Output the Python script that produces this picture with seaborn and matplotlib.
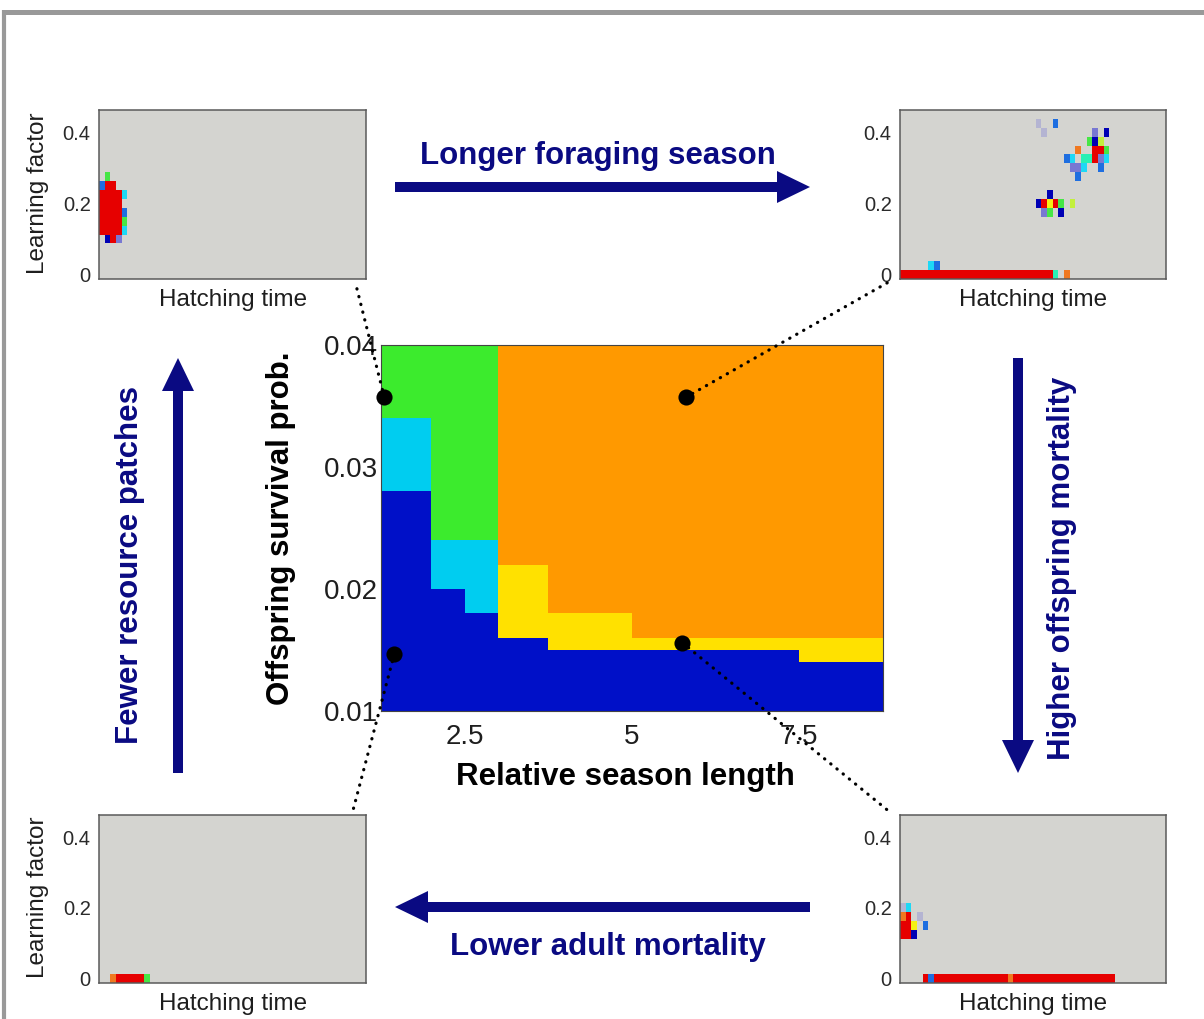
import numpy as np
import matplotlib
matplotlib.use("Agg")
import matplotlib.pyplot as plt
from matplotlib.colors import ListedColormap
from matplotlib.patches import FancyArrow, ConnectionPatch
import seaborn as sns

# ---------------- data ----------------
# main phase diagram (30 x 30 cells)
season_start, season_step = 1.25, 0.25      # relative season length (cell edges)
surv_start, surv_step = 0.010, 0.001        # offspring survival probability
n_rows = 30
group_widths = [3, 2, 2, 3, 5, 10, 5]       # columns per group (left to right)
blue_rows = [18, 10, 8, 6, 5, 5, 4]         # rows in state 0 counted from bottom
mid_rows = [24, 14, 14, 12, 8, 6, 6]        # top row of the middle state
mid_state = [1, 1, 1, 3, 3, 3, 3]           # 1 = cyan, 3 = yellow
top_state = [2, 2, 2, 4, 4, 4, 4]           # 2 = green, 4 = orange
state_colors = ["#0010C8", "#00CDF0", "#3CEB2D", "#FFE100", "#FF9900"]
x_ticks = [2.5, 5, 7.5]
x_tick_labels = ["2.5", "5", "7.5"]
y_ticks = [0.01, 0.02, 0.03, 0.04]
y_tick_labels = ["0.01", "0.02", "0.03", "0.04"]

# highlighted parameter combinations (season length, survival prob.)
dot_season = [1.30, 5.80, 1.45, 5.75]
dot_surv = [0.0357, 0.0357, 0.0147, 0.0156]

# inset distributions (learning factor x hatching time)
lf_step = 0.025
n_lf, n_ht = 19, 47
lf_ticks = [0, 0.2, 0.4]
lf_tick_labels = ["0", "0.2", "0.4"]
inset_colors = ["#0000B4", "#1E6EE0", "#1ED8F5", "#28F0B4", "#46E646",
                "#C3F03C", "#F5F014", "#F07820", "#E60000", "#B4B4D2", "#7878D2"]
# runs: (learning-factor row, first col, last col, colour code)
tl_runs = [(11, 1, 1, 4), (10, 0, 0, 1), (10, 1, 2, 8),
           (9, 0, 3, 8), (9, 4, 4, 2), (8, 0, 3, 8),
           (7, 0, 3, 8), (7, 4, 4, 1), (6, 0, 3, 8), (6, 4, 4, 4),
           (5, 0, 3, 8), (5, 4, 4, 2),
           (4, 1, 1, 0), (4, 2, 2, 8), (4, 3, 3, 10)]
tr_runs = [(17, 24, 24, 9), (16, 25, 25, 9), (17, 27, 27, 1),
           (16, 34, 34, 10), (16, 36, 36, 0),
           (15, 33, 33, 4), (15, 34, 34, 0), (15, 35, 35, 5),
           (14, 31, 31, 7), (14, 34, 35, 8), (14, 36, 36, 4),
           (13, 29, 29, 1), (13, 30, 30, 2), (13, 32, 33, 3), (13, 34, 34, 8),
           (13, 35, 35, 10), (13, 36, 36, 2),
           (12, 30, 31, 10), (12, 32, 32, 2), (12, 35, 35, 1),
           (11, 31, 31, 1),
           (9, 26, 26, 0),
           (8, 24, 24, 0), (8, 25, 25, 8), (8, 26, 26, 6), (8, 27, 27, 8),
           (8, 28, 28, 4), (8, 30, 30, 5),
           (7, 25, 25, 10), (7, 26, 26, 4), (7, 28, 28, 0),
           (1, 5, 5, 2), (1, 6, 6, 1),
           (0, 0, 26, 8), (0, 27, 27, 3), (0, 29, 29, 7)]
bl_runs = [(0, 2, 2, 7), (0, 3, 7, 8), (0, 8, 8, 4)]
br_runs = [(8, 0, 0, 9), (8, 1, 1, 2),
           (7, 0, 0, 7), (7, 1, 1, 8), (7, 3, 3, 9),
           (6, 0, 1, 8), (6, 2, 2, 6), (6, 4, 4, 1),
           (5, 0, 1, 8), (5, 2, 2, 0),
           (0, 4, 4, 8), (0, 5, 5, 1), (0, 6, 37, 8), (0, 19, 19, 7)]

arrow_texts = ["Longer foraging season", "Higher offspring mortality",
               "Lower adult mortality", "Fewer resource patches"]

# ---------------- style ----------------
sns.set_style("white")
plt.rcParams['font.family'] = ['Liberation Sans', 'DejaVu Sans']
navy = "#0a0a82"
gray_bg = "#D4D4D0"

W, H = 1204, 1019
fig = plt.figure(figsize=(W / 100, H / 100), dpi=100)
fig.patch.set_facecolor("white")


def box(l, t, r, b):
    return [l / W, 1 - b / H, (r - l) / W, (b - t) / H]


def fp(x, y):
    return x / W, 1 - y / H


# overlay for frame and arrows (pixel coordinates)
ov = fig.add_axes([0, 0, 1, 1])
ov.set_xlim(0, W)
ov.set_ylim(H, 0)
ov.axis("off")
ov.plot([4, 4], [10, H], color="#999999", lw=3.0, solid_capstyle="butt")
ov.plot([2, W], [11.5, 11.5], color="#999999", lw=3.6, solid_capstyle="butt")
arrow_kw = dict(width=10, head_width=32, head_length=33,
                length_includes_head=True, color=navy, lw=0)
ov.add_patch(FancyArrow(395, 187, 810 - 395, 0, **arrow_kw))
ov.add_patch(FancyArrow(1018, 358, 0, 773 - 358, **arrow_kw))
ov.add_patch(FancyArrow(810, 907, 395 - 810, 0, **arrow_kw))
ov.add_patch(FancyArrow(178, 773, 0, 358 - 773, **arrow_kw))

# ---------------- main heatmap ----------------
n_cols = sum(group_widths)
grid = np.zeros((n_rows, n_cols))
c = 0
for w, b, m, ms, ts in zip(group_widths, blue_rows, mid_rows, mid_state, top_state):
    col = np.full(n_rows, ts, dtype=float)
    col[:m] = ms
    col[:b] = 0
    grid[:, c:c + w] = col[::-1, None]
    c += w

axm = fig.add_axes(box(381, 345, 883, 711))
sns.heatmap(grid, ax=axm, cmap=ListedColormap(state_colors), vmin=-0.5, vmax=4.5,
            cbar=False, xticklabels=False, yticklabels=False)


def xpos(v):
    return (np.asarray(v) - season_start) / season_step


def ypos(v):
    return n_rows - (np.asarray(v) - surv_start) / surv_step


axm.set_xticks(xpos(x_ticks))
axm.set_xticklabels(x_tick_labels)
axm.set_yticks(ypos(y_ticks))
axm.set_yticklabels(y_tick_labels, rotation=0)
axm.tick_params(axis="both", length=0, labelsize=20, colors="#1e1e1e")
axm.tick_params(axis="x", pad=9)
axm.tick_params(axis="y", pad=2)
for s in axm.spines.values():
    s.set_visible(True)
    s.set_color("#444444")
    s.set_linewidth(0.8)
axm.scatter(xpos(dot_season), ypos(dot_surv), s=135, color="black",
            zorder=6, clip_on=False, linewidths=0)

fig.text(*fp(625, 777), "Relative season length", ha="center", va="center",
         fontsize=22.5, fontweight="bold", color="black")
fig.text(*fp(281, 528), "Offspring survival prob.", ha="center", va="center",
         rotation=90, fontsize=22.5, fontweight="bold", color="black")

# ---------------- insets ----------------
inset_cmap = ListedColormap(inset_colors)


def draw_inset(rect, runs, with_ylabel):
    ax = fig.add_axes(rect)
    g = np.full((n_lf, n_ht), np.nan)
    for r, c0, c1, k in runs:
        g[n_lf - 1 - r, c0:c1 + 1] = k
    sns.heatmap(g, ax=ax, cmap=inset_cmap, vmin=-0.5, vmax=len(inset_colors) - 0.5,
                cbar=False, xticklabels=False, yticklabels=False)
    ax.set_facecolor(gray_bg)
    ax.set_xticks([])
    ax.set_yticks([n_lf - 1 - v / lf_step + 0.5 for v in lf_ticks])
    ax.set_yticklabels(lf_tick_labels, rotation=0)
    ax.tick_params(axis="y", length=0, labelsize=14.5, colors="#2a2a2a", pad=6)
    for s in ax.spines.values():
        s.set_visible(True)
        s.set_color("#5a5a5a")
        s.set_linewidth(1.1)
    return ax


ax_tl = draw_inset(box(99, 110, 366, 279), tl_runs, True)
ax_tr = draw_inset(box(900, 110, 1166, 279), tr_runs, False)
ax_bl = draw_inset(box(99, 815, 366, 983), bl_runs, True)
ax_br = draw_inset(box(900, 815, 1166, 983), br_runs, False)

for x, y in [(233, 300), (1033, 300), (233, 1004), (1033, 1004)]:
    fig.text(*fp(x, y), "Hatching time", ha="center", va="center",
             fontsize=17.5, color="#1e1e1e")
for x, y in [(38, 193), (38, 897)]:
    fig.text(*fp(x, y), "Learning factor", ha="center", va="center",
             rotation=90, fontsize=17.5, color="#1e1e1e")

# ---------------- arrow captions ----------------
fig.text(*fp(598, 156), arrow_texts[0], ha="center", va="center",
         fontsize=22.5, fontweight="bold", color=navy)
fig.text(*fp(1062, 568), arrow_texts[1], ha="center", va="center", rotation=90,
         fontsize=22.5, fontweight="bold", color=navy)
fig.text(*fp(608, 947), arrow_texts[2], ha="center", va="center",
         fontsize=22.5, fontweight="bold", color=navy)
fig.text(*fp(130, 565), arrow_texts[3], ha="center", va="center", rotation=90,
         fontsize=22.5, fontweight="bold", color=navy)

# ---------------- dotted connectors ----------------
targets = [(ax_tl, (0.96, -0.02)), (ax_tr, (-0.045, -0.02)),
           (ax_bl, (0.95, 1.02)), (ax_br, (-0.04, 1.02))]
for (ax_in, xyB), sx, sy in zip(targets, dot_season, dot_surv):
    con = ConnectionPatch(xyA=(float(xpos(sx)), float(ypos(sy))), coordsA=axm.transData,
                          xyB=xyB, coordsB=ax_in.transAxes,
                          color="black", lw=2.3, linestyle=(0, (0.1, 2.4)),
                          capstyle="round", zorder=7)
    fig.add_artist(con)

fig.savefig("out.png", dpi=100)
